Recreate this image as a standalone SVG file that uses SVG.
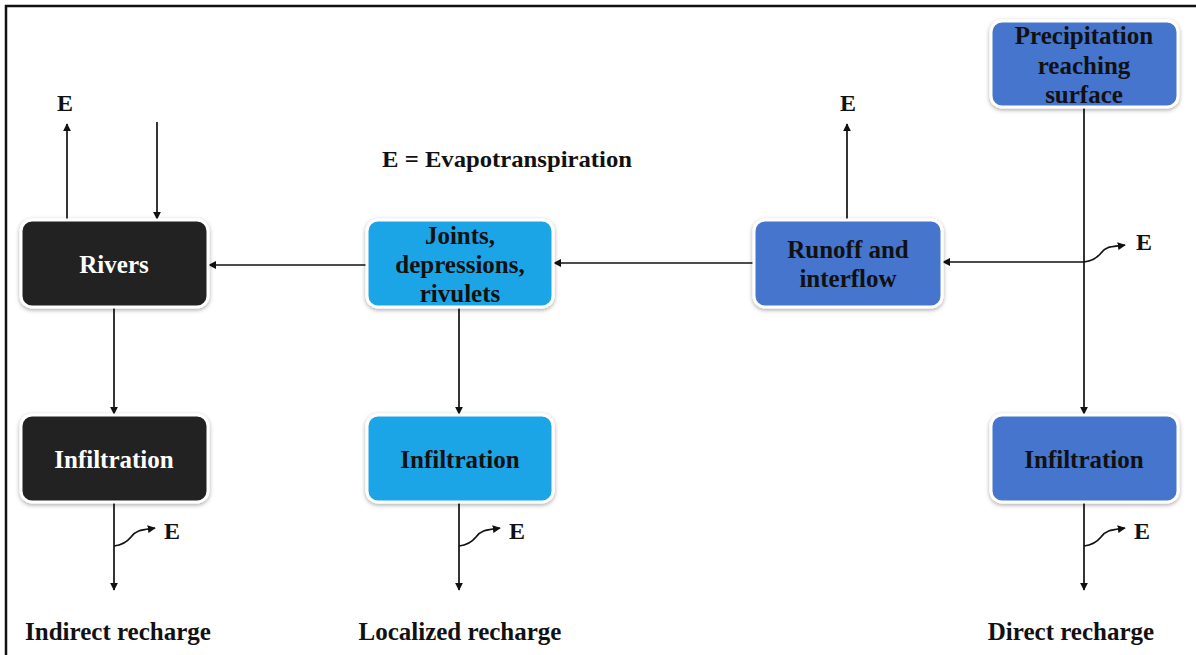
<svg xmlns="http://www.w3.org/2000/svg" width="1196" height="655" viewBox="0 0 1196 655">
  <defs>
    <marker id="arrow" viewBox="0 0 10 10" refX="9" refY="5" markerWidth="8" markerHeight="8" markerUnits="userSpaceOnUse" orient="auto">
      <path d="M0,0 L10,5 L0,10 z" fill="#111"/>
    </marker>
    <filter id="glow" x="-10%" y="-15%" width="120%" height="135%">
      <feDropShadow dx="0" dy="1.5" stdDeviation="2" flood-color="#000" flood-opacity="0.35"/>
    </filter>
  </defs>
  <style>
    .box { stroke: #ffffff; stroke-width: 3; filter: url(#glow); }
    .dark { fill: #222222; }
    .cyan { fill: #1ea5e6; }
    .blue { fill: #4575cd; }
    .label { font-family: "Liberation Serif", "Times New Roman", serif; font-weight: bold; font-size: 25px; text-anchor: middle; }
    .light { fill: #ffffff; }
    .ink { fill: #111111; }
    .free { font-family: "Liberation Serif", "Times New Roman", serif; font-weight: bold; font-size: 24px; fill: #111111; }
    .line { stroke: #111111; stroke-width: 1.7; fill: none; }
    .arr { marker-end: url(#arrow); }
  </style>

  <rect x="0" y="0" width="1196" height="655" fill="#ffffff"/>
  <!-- frame -->
  <path d="M6,655 L6,6 L1196,6" fill="none" stroke="#111" stroke-width="2.5"/>

  <!-- connectors -->
  <g id="connectors">
    <!-- rivers column -->
    <line class="line arr" x1="67" y1="219" x2="67" y2="124"/>
    <line class="line arr" x1="157" y1="122" x2="157" y2="219"/>
    <line class="line arr" x1="114" y1="307" x2="114" y2="414"/>
    <line class="line arr" x1="114" y1="502" x2="114" y2="590"/>
    <path class="line arr" d="M114,546 C123,545 127,542 131,537 C136,530 142,530 155,528"/>
    <!-- joints column -->
    <line class="line arr" x1="367" y1="265" x2="209" y2="265"/>
    <line class="line arr" x1="459" y1="307" x2="459" y2="414"/>
    <line class="line arr" x1="459" y1="502" x2="459" y2="590"/>
    <path class="line arr" d="M459,546 C468,545 472,542 476,537 C481,530 487,530 500,528"/>
    <!-- runoff and precipitation -->
    <line class="line arr" x1="754" y1="263" x2="554" y2="263"/>
    <line class="line arr" x1="847" y1="219" x2="847" y2="124"/>
    <line class="line arr" x1="1084" y1="107" x2="1084" y2="414"/>
    <line class="line arr" x1="1084" y1="262" x2="943" y2="262"/>
    <path class="line arr" d="M1084,262 C1093,261 1097,258 1101,253 C1106,246 1112,247 1125,245"/>
    <line class="line arr" x1="1084" y1="502" x2="1084" y2="590"/>
    <path class="line arr" d="M1084,546 C1093,545 1097,542 1101,537 C1106,530 1112,530 1125,528"/>
  </g>

  <!-- nodes -->
  <g id="precipitation">
    <rect class="box blue" x="991" y="21" width="187" height="86" rx="11"/>
    <text class="label ink" x="1084" y="44">Precipitation</text>
    <text class="label ink" x="1084" y="74">reaching</text>
    <text class="label ink" x="1084" y="103">surface</text>
  </g>
  <g id="runoff">
    <rect class="box blue" x="754" y="220" width="188" height="87" rx="11"/>
    <text class="label ink" x="848" y="258">Runoff and</text>
    <text class="label ink" x="848" y="287">interflow</text>
  </g>
  <g id="joints">
    <rect class="box cyan" x="367" y="220" width="186" height="87" rx="11"/>
    <text class="label ink" x="460" y="244">Joints,</text>
    <text class="label ink" x="460" y="273">depressions,</text>
    <text class="label ink" x="460" y="302">rivulets</text>
  </g>
  <g id="rivers">
    <rect class="box dark" x="21" y="220" width="187" height="87" rx="11"/>
    <text class="label light" x="114" y="273">Rivers</text>
  </g>
  <g id="infiltration-indirect">
    <rect class="box dark" x="21" y="415" width="187" height="87" rx="11"/>
    <text class="label light" x="114" y="468">Infiltration</text>
  </g>
  <g id="infiltration-localized">
    <rect class="box cyan" x="367" y="415" width="186" height="87" rx="11"/>
    <text class="label ink" x="460" y="468">Infiltration</text>
  </g>
  <g id="infiltration-direct">
    <rect class="box blue" x="991" y="415" width="187" height="87" rx="11"/>
    <text class="label ink" x="1084" y="468">Infiltration</text>
  </g>

  <!-- evapotranspiration marks and legend -->
  <g id="annotations">
    <text class="free" x="57" y="111">E</text>
    <text class="free" x="840" y="111">E</text>
    <text class="free" x="1136" y="250">E</text>
    <text class="free" x="164" y="539">E</text>
    <text class="free" x="509" y="539">E</text>
    <text class="free" x="1134" y="539">E</text>
    <text class="free" x="382" y="167" textLength="250" lengthAdjust="spacingAndGlyphs">E = Evapotranspiration</text>
  </g>

  <!-- outcomes -->
  <g id="outcomes">
    <text class="label ink" x="118" y="640">Indirect recharge</text>
    <text class="label ink" x="460" y="640">Localized recharge</text>
    <text class="label ink" x="1071" y="640">Direct recharge</text>
  </g>
</svg>
